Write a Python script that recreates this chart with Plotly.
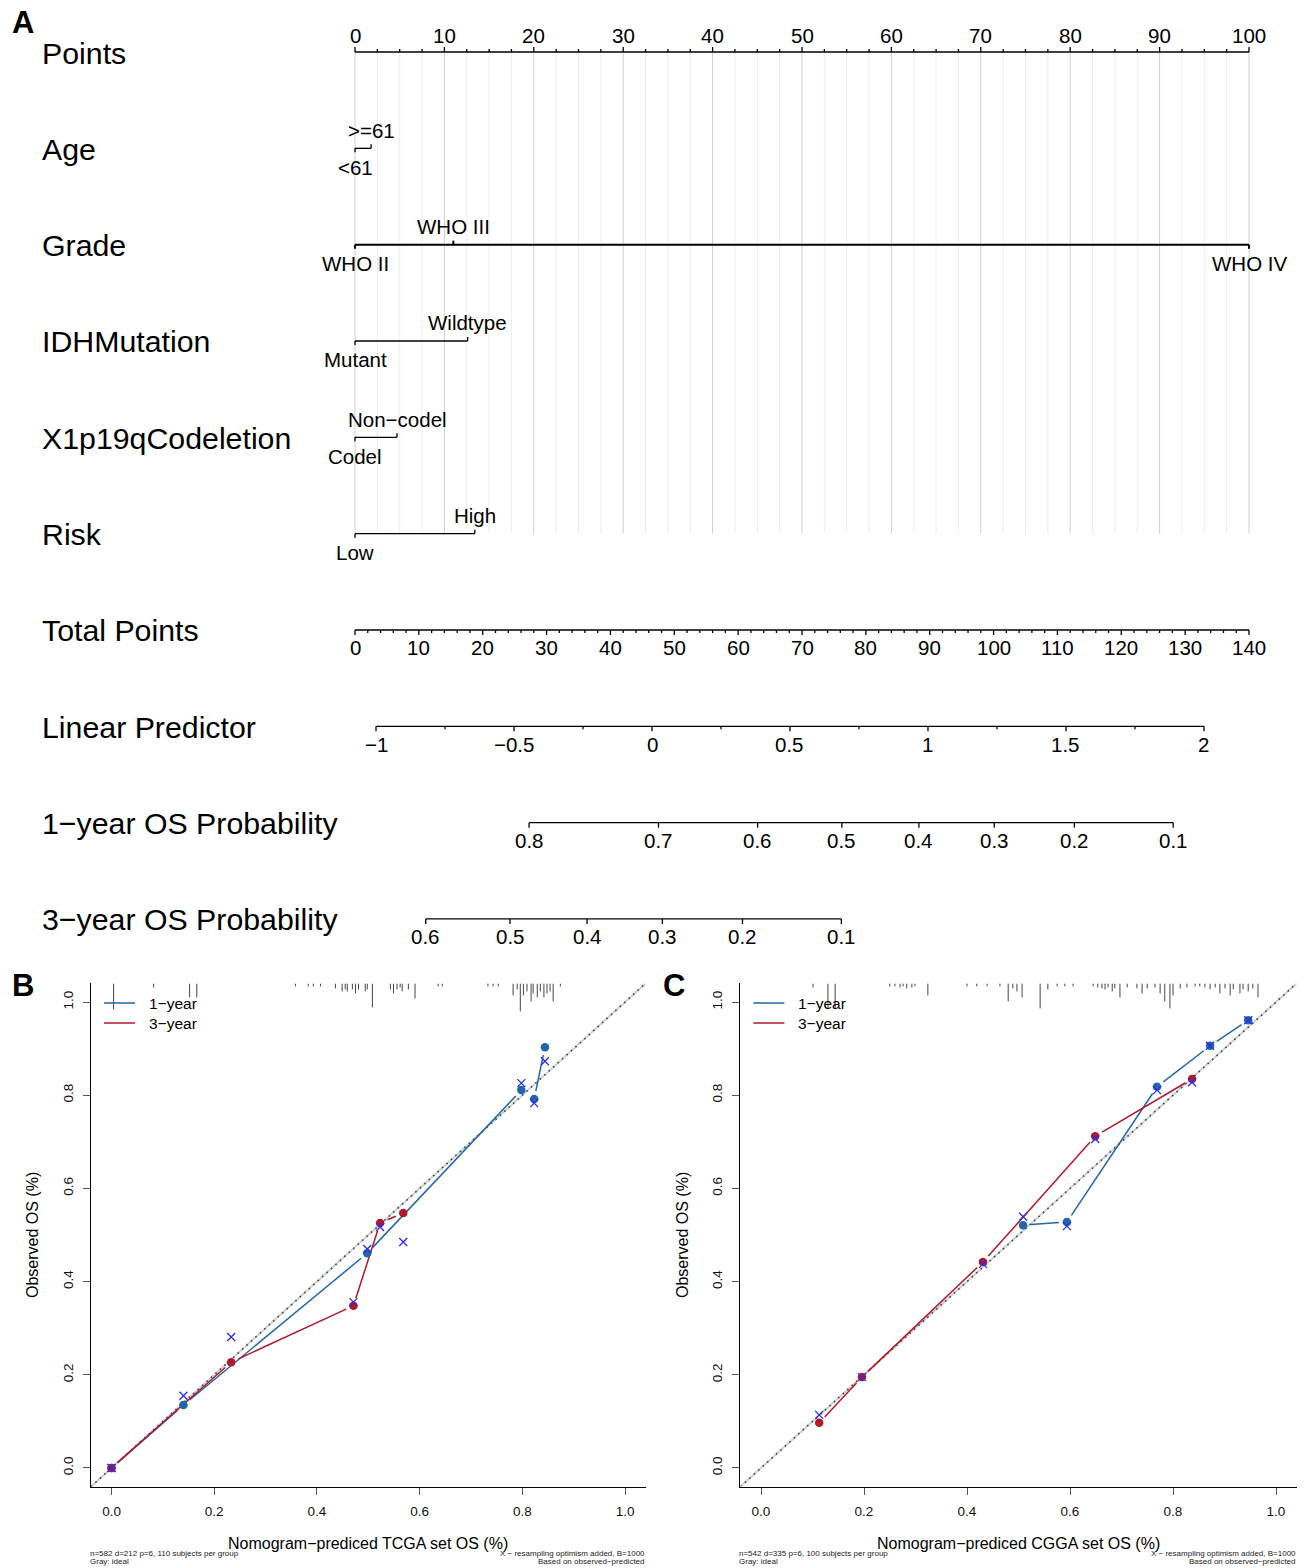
import math
import numpy as np
import plotly.graph_objects as go

W, H = 1305, 1568
FONT = "Liberation Sans, Arial, Helvetica, sans-serif"

# ====================== DATA ======================
# ---- Panel A: nomogram ----
row_names = ["Points", "Age", "Grade", "IDHMutation", "X1p19qCodeletion", "Risk",
             "Total Points", "Linear Predictor", "1\u2212year OS Probability",
             "3\u2212year OS Probability"]
points_major = list(range(0, 101, 10))
points_minor_step = 2.5

age_levels = ["<61", ">=61"]
age_points = [0.0, 1.8]
grade_levels = ["WHO II", "WHO III", "WHO IV"]
grade_points = [0.0, 11.0, 100.0]
idh_levels = ["Mutant", "Wildtype"]
idh_points = [0.0, 12.6]
codel_levels = ["Codel", "Non\u2212codel"]
codel_points = [0.0, 4.7]
risk_levels = ["Low", "High"]
risk_points = [0.0, 13.4]

total_points_ticks = list(range(0, 141, 10))
total_minor_step = 2
lp_ticks = [-1, -0.5, 0, 0.5, 1, 1.5, 2]
lp_tick_labels = ["\u22121", "\u22120.5", "0", "0.5", "1", "1.5", "2"]
lp_minor_step = 0.25
os1_ticks = [0.8, 0.7, 0.6, 0.5, 0.4, 0.3, 0.2, 0.1]
os3_ticks = [0.6, 0.5, 0.4, 0.3, 0.2, 0.1]

# model constants (linear predictor <-> total points, baseline survival shifts)
TOTAL_MAX = 140.0
TP_AT_LP0 = 46.51
TP_PER_LP = 43.22
OS1_SHIFT = 1.0545
OS3_SHIFT = -0.148

# ---- Panel B: TCGA calibration ----
b_1y_pred = [0.0, 0.140, 0.498, 0.798, 0.823, 0.844]
b_1y_obs = [0.0, 0.135, 0.461, 0.811, 0.792, 0.903]
b_1y_corr = [0.0, 0.155, 0.470, 0.826, 0.783, 0.873]
b_3y_pred = [0.0, 0.233, 0.471, 0.523, 0.568]
b_3y_obs = [0.0, 0.227, 0.348, 0.526, 0.547]
b_3y_corr = [0.0, 0.281, 0.356, 0.517, 0.485]
b_rug_x = [0.004, 0.082, 0.152, 0.166,
           0.358, 0.383, 0.393, 0.407, 0.436, 0.449, 0.455, 0.459, 0.469, 0.475, 0.481,
           0.494, 0.498, 0.508, 0.543, 0.549, 0.556, 0.562, 0.566, 0.578, 0.591, 0.636,
           0.644, 0.733, 0.743, 0.753, 0.782, 0.790, 0.796, 0.802, 0.809, 0.817, 0.821,
           0.829, 0.835, 0.842, 0.848, 0.854, 0.860, 0.874]
b_rug_freq = [26, 4, 14, 14,
              3, 3, 3, 3, 5, 8, 6, 8, 6, 10, 6,
              8, 6, 24, 6, 10, 6, 4, 8, 6, 15, 3,
              3, 3, 3, 3, 12, 6, 28, 12, 8, 18, 10,
              14, 8, 14, 10, 8, 18, 3]
b_sub_left = ["n=582 d=212 p=6, 110 subjects per group", "Gray: ideal"]
b_xtitle = "Nomogram\u2212prediced TCGA set OS (%)"

# ---- Panel C: CGGA calibration ----
c_1y_pred = [0.509, 0.594, 0.769, 0.872, 0.946]
c_1y_obs = [0.521, 0.528, 0.818, 0.906, 0.961]
c_1y_corr = [0.539, 0.519, 0.811, 0.906, 0.961]
c_3y_pred = [0.113, 0.196, 0.431, 0.649, 0.837]
c_3y_obs = [0.097, 0.195, 0.442, 0.712, 0.835]
c_3y_corr = [0.114, 0.195, 0.438, 0.706, 0.828]
c_rug_x = [0.101, 0.130, 0.144, 0.250, 0.260, 0.270, 0.276, 0.283, 0.293, 0.299, 0.324,
           0.400, 0.419, 0.439, 0.464, 0.480, 0.489, 0.497, 0.507, 0.542, 0.557, 0.575,
           0.590, 0.606, 0.645, 0.654, 0.662, 0.668, 0.674, 0.682, 0.687, 0.697, 0.711,
           0.730, 0.740, 0.750, 0.765, 0.775, 0.784, 0.794, 0.800, 0.814, 0.827, 0.843,
           0.852, 0.862, 0.872, 0.882, 0.891, 0.901, 0.911, 0.917, 0.930, 0.936, 0.946,
           0.955, 0.965]
c_rug_freq = [4, 25, 25, 3, 3, 4, 3, 5, 4, 3, 12,
              3, 3, 3, 3, 18, 5, 8, 14, 25, 6, 3,
              3, 3, 3, 4, 5, 6, 4, 8, 5, 14, 4,
              5, 10, 5, 4, 10, 18, 25, 12, 5, 4, 3,
              3, 4, 6, 4, 10, 5, 12, 6, 10, 6, 8,
              5, 14]
c_sub_left = ["n=542 d=335 p=6, 100 subjects per group", "Gray: ideal"]
c_xtitle = "Nomogram\u2212prediced CGGA set OS (%)"

sub_right = ["X \u2212 resampling optimism added, B=1000", "Based on observed\u2212predicted"]
cal_ticks = [0.0, 0.2, 0.4, 0.6, 0.8, 1.0]
legend_names = ["1\u2212year", "3\u2212year"]
ytitle = "Observed OS (%)"

# ====================== LAYOUT CONSTANTS ======================
X0_PX, PX_PER_POINT = 355.0, 8.94
ROW0_PX, ROW_STEP = 52.0, 96.33
BLUE, RED, XBLUE = "#2166AC", "#B2182B", "#2B2BF0"
GRID_MAJ, GRID_MIN = "#CFCFCF", "#EDEDED"
TXT = 20.5

def rpx(px):
    return px / ROW_STEP

def tp_to_pts(tp):
    return tp / TOTAL_MAX * 100.0

def lp_to_pts(lp):
    return tp_to_pts(TP_AT_LP0 + TP_PER_LP * lp)

def surv_to_pts(s, shift):
    return lp_to_pts(math.log(-math.log(s)) + shift)

fig = go.Figure()
ann = []

def text(x, y, t, size=TXT, xref="x", yref="y", xanchor="center", yanchor="middle",
         bold=False, angle=0, color="black"):
    ann.append(dict(x=x, y=y, xref=xref, yref=yref, text=("<b>%s</b>" % t) if bold else t,
                    showarrow=False, xanchor=xanchor, yanchor=yanchor, textangle=angle,
                    font=dict(family=FONT, size=size, color=color), borderpad=0))

def add_segments(segs, color, width, xa="x", ya="y", dash=None):
    xs, ys = [], []
    for (x0, y0, x1, y1) in segs:
        xs += [x0, x1, None]
        ys += [y0, y1, None]
    fig.add_trace(go.Scatter(x=xs, y=ys, mode="lines", xaxis=xa, yaxis=ya, hoverinfo="skip",
                             line=dict(color=color, width=width, dash=dash)))

# ---------------- Panel A ----------------
risk_row = 5
minor_vals = np.arange(0, 100 + 1e-9, points_minor_step)
grid_min = [(v, 0, v, risk_row) for v in minor_vals if abs(v % 10) > 1e-9]
grid_maj = [(v, 0, v, risk_row) for v in points_major]
add_segments(grid_min, GRID_MIN, 1)
add_segments(grid_maj, GRID_MAJ, 1)

axis_segs = []
pred_segs = []
# Points axis (row 0), ticks up, labels above
axis_segs.append((0, 0, 100, 0))
for v in points_major:
    axis_segs.append((v, 0, v, -rpx(5)))
    text(v, -rpx(17), str(v))
for v in minor_vals:
    if abs(v % 10) > 1e-9:
        axis_segs.append((v, 0, v, -rpx(3)))

# predictor rows
predictors = [(age_levels, age_points), (grade_levels, grade_points), (idh_levels, idh_points),
              (codel_levels, codel_points), (risk_levels, risk_points)]
for i, (levels, pts) in enumerate(predictors):
    r = i + 1
    seglist = pred_segs if levels is grade_levels else axis_segs
    seglist.append((min(pts), r, max(pts), r))
    for j, (lv, p) in enumerate(zip(levels, pts)):
        if j % 2 == 0:
            seglist.append((p, r, p, r + rpx(4)))
            text(p, r + rpx(19), lv)
        else:
            seglist.append((p, r, p, r - rpx(4)))
            text(p, r - rpx(18), lv)

# Total points (row 6)
r = 6
axis_segs.append((tp_to_pts(0), r, tp_to_pts(TOTAL_MAX), r))
for v in np.arange(0, TOTAL_MAX + 1e-9, total_minor_step):
    major = abs(v % 10) < 1e-9
    axis_segs.append((tp_to_pts(v), r, tp_to_pts(v), r + rpx(5 if major else 3)))
for v in total_points_ticks:
    text(tp_to_pts(v), r + rpx(18), str(v))

# Linear predictor (row 7)
r = 7
axis_segs.append((lp_to_pts(lp_ticks[0]), r, lp_to_pts(lp_ticks[-1]), r))
for v in np.arange(lp_ticks[0], lp_ticks[-1] + 1e-9, lp_minor_step):
    major = abs((v * 2) - round(v * 2)) < 1e-9
    axis_segs.append((lp_to_pts(v), r, lp_to_pts(v), r + rpx(5 if major else 3)))
for v, lab in zip(lp_ticks, lp_tick_labels):
    text(lp_to_pts(v), r + rpx(18), lab)

# survival probability rows
for r, ticks, shift in [(8, os1_ticks, OS1_SHIFT), (9, os3_ticks, OS3_SHIFT)]:
    xs = [surv_to_pts(s, shift) for s in ticks]
    axis_segs.append((min(xs), r, max(xs), r))
    for s, xv in zip(ticks, xs):
        axis_segs.append((xv, r, xv, r + rpx(5)))
        text(xv, r + rpx(18), ("%.1f" % s))

add_segments(axis_segs, "black", 1.3)
add_segments(pred_segs, "black", 2.0)

for i, name in enumerate(row_names):
    ann.append(dict(x=41 / W, y=i + rpx(1), xref="paper", yref="y", text=name, showarrow=False,
                    xanchor="left", yanchor="middle", borderpad=0,
                    font=dict(family=FONT, size=30.3, color="black")))
text(11 / W, 1 - 22 / H, "A", size=31, xref="paper", yref="paper", xanchor="left", bold=True)

# ---------------- Panels B & C ----------------
Y_TOP_PX, Y_BOT_PX = 983.4, 1486.6
panels = [
    dict(xa="x2", ya="y2", left=91.0, right=645.6, letter="B", lx=11,
         one=(b_1y_pred, b_1y_obs, b_1y_corr), three=(b_3y_pred, b_3y_obs, b_3y_corr),
         rugx=b_rug_x, rugf=b_rug_freq, subl=b_sub_left, xt=b_xtitle),
    dict(xa="x3", ya="y3", left=740.4, right=1296.6, letter="C", lx=662,
         one=(c_1y_pred, c_1y_obs, c_1y_corr), three=(c_3y_pred, c_3y_obs, c_3y_corr),
         rugx=c_rug_x, rugf=c_rug_freq, subl=c_sub_left, xt=c_xtitle),
]
LO, HI = -0.04, 1.04
GAP = 8.0

def gapped(xs, ys, sx, sy):
    ox, oy = [], []
    for i in range(len(xs) - 1):
        dx = (xs[i + 1] - xs[i]) * sx
        dy = (ys[i + 1] - ys[i]) * sy
        d = math.hypot(dx, dy)
        if d <= 2 * GAP:
            continue
        f = GAP / d
        ox += [xs[i] + (xs[i + 1] - xs[i]) * f, xs[i + 1] - (xs[i + 1] - xs[i]) * f, None]
        oy += [ys[i] + (ys[i + 1] - ys[i]) * f, ys[i + 1] - (ys[i + 1] - ys[i]) * f, None]
    return ox, oy

axis_common = dict(range=[LO, HI], showgrid=False, zeroline=False, showline=True,
                   linecolor="black", linewidth=1, ticks="outside", ticklen=7, tickwidth=1,
                   tickcolor="#555", tickvals=cal_ticks, ticktext=["%.1f" % t for t in cal_ticks],
                   tickfont=dict(family=FONT, size=13.5, color="#111"), fixedrange=True,
                   ticklabelstandoff=5)
layout_axes = {}
for k, p in enumerate(panels):
    n = k + 2
    sx = (p["right"] - p["left"]) / (HI - LO)
    sy = (Y_BOT_PX - Y_TOP_PX) / (HI - LO)
    layout_axes["xaxis%d" % n] = dict(axis_common, domain=[p["left"] / W, p["right"] / W],
                                      anchor="y%d" % n)
    layout_axes["yaxis%d" % n] = dict(axis_common, domain=[1 - Y_BOT_PX / H, 1 - Y_TOP_PX / H],
                                      anchor="x%d" % n, tickangle=-90)
    xa, ya = p["xa"], p["ya"]
    # ideal line + dotted diagonal
    fig.add_trace(go.Scatter(x=[LO, HI], y=[LO, HI], mode="lines", xaxis=xa, yaxis=ya,
                             line=dict(color="#D0D0D0", width=2), hoverinfo="skip"))
    fig.add_trace(go.Scatter(x=[LO, HI], y=[LO, HI], mode="lines", xaxis=xa, yaxis=ya,
                             line=dict(color="#2F4F4F", width=1.6, dash="1.6px,4.4px"),
                             hoverinfo="skip"))
    # rug at top
    rsegs = [(x, HI, x, HI - f / sy) for x, f in zip(p["rugx"], p["rugf"])]
    add_segments(rsegs, "#444444", 1, xa, ya)
    # calibration curves
    for (pred, obs, corr), col in [(p["one"], BLUE), (p["three"], RED)]:
        gx, gy = gapped(pred, obs, sx, sy)
        fig.add_trace(go.Scatter(x=gx, y=gy, mode="lines", xaxis=xa, yaxis=ya,
                                 line=dict(color=col, width=1.5), hoverinfo="skip"))
    for (pred, obs, corr), col in [(p["one"], BLUE), (p["three"], RED)]:
        fig.add_trace(go.Scatter(x=pred, y=obs, mode="markers", xaxis=xa, yaxis=ya,
                                 marker=dict(color=col, size=8.5, line=dict(width=0)),
                                 hoverinfo="skip"))
    for (pred, obs, corr) in [p["one"], p["three"]]:
        fig.add_trace(go.Scatter(x=pred, y=corr, mode="markers", xaxis=xa, yaxis=ya,
                                 marker=dict(symbol="x-thin", size=8, color=XBLUE,
                                             line=dict(color=XBLUE, width=1.3)),
                                 hoverinfo="skip"))
    # legend
    for j, (nm, col) in enumerate(zip(legend_names, [BLUE, RED])):
        yy = 1003 + 20 * j
        fig.add_shape(type="line", xref="paper", yref="paper",
                      x0=(p["left"] + 13) / W, x1=(p["left"] + 44) / W,
                      y0=1 - yy / H, y1=1 - yy / H, line=dict(color=col, width=1.5))
        text((p["left"] + 57) / W, 1 - yy / H, nm, size=15.5, xref="paper", yref="paper",
             xanchor="left")
    # titles
    mid = (p["left"] + p["right"]) / 2
    text(mid / W, 1 - 1543 / H, p["xt"], size=16, xref="paper", yref="paper")
    text(32 / W if k == 0 else (32 + 650) / W, 1 - 1235 / H, ytitle, size=16,
         xref="paper", yref="paper", angle=-90)
    text((p["left"] - 2) / W, 1 - 1553 / H, p["subl"][0], size=8, xref="paper", yref="paper",
         xanchor="left", color="#222")
    text((p["left"] - 2) / W, 1 - 1561.5 / H, p["subl"][1], size=8, xref="paper", yref="paper",
         xanchor="left", color="#222")
    text(p["right"] / W, 1 - 1553 / H, sub_right[0], size=8, xref="paper", yref="paper",
         xanchor="right", color="#222")
    text(p["right"] / W, 1 - 1561.5 / H, sub_right[1], size=8, xref="paper", yref="paper",
         xanchor="right", color="#222")
    text(p["lx"] / W, 1 - 985 / H, p["letter"], size=31, xref="paper", yref="paper",
         xanchor="left", bold=True)

fig.update_layout(
    width=W, height=H, margin=dict(l=0, r=0, t=0, b=0),
    paper_bgcolor="white", plot_bgcolor="white", showlegend=False,
    xaxis=dict(domain=[0, 1], range=[(0 - X0_PX) / PX_PER_POINT, (W - X0_PX) / PX_PER_POINT],
               visible=False, fixedrange=True),
    yaxis=dict(domain=[0, 1], range=[(H - ROW0_PX) / ROW_STEP, (0 - ROW0_PX) / ROW_STEP],
               visible=False, fixedrange=True),
    annotations=ann,
    **layout_axes,
)
fig.write_html("out.html")
